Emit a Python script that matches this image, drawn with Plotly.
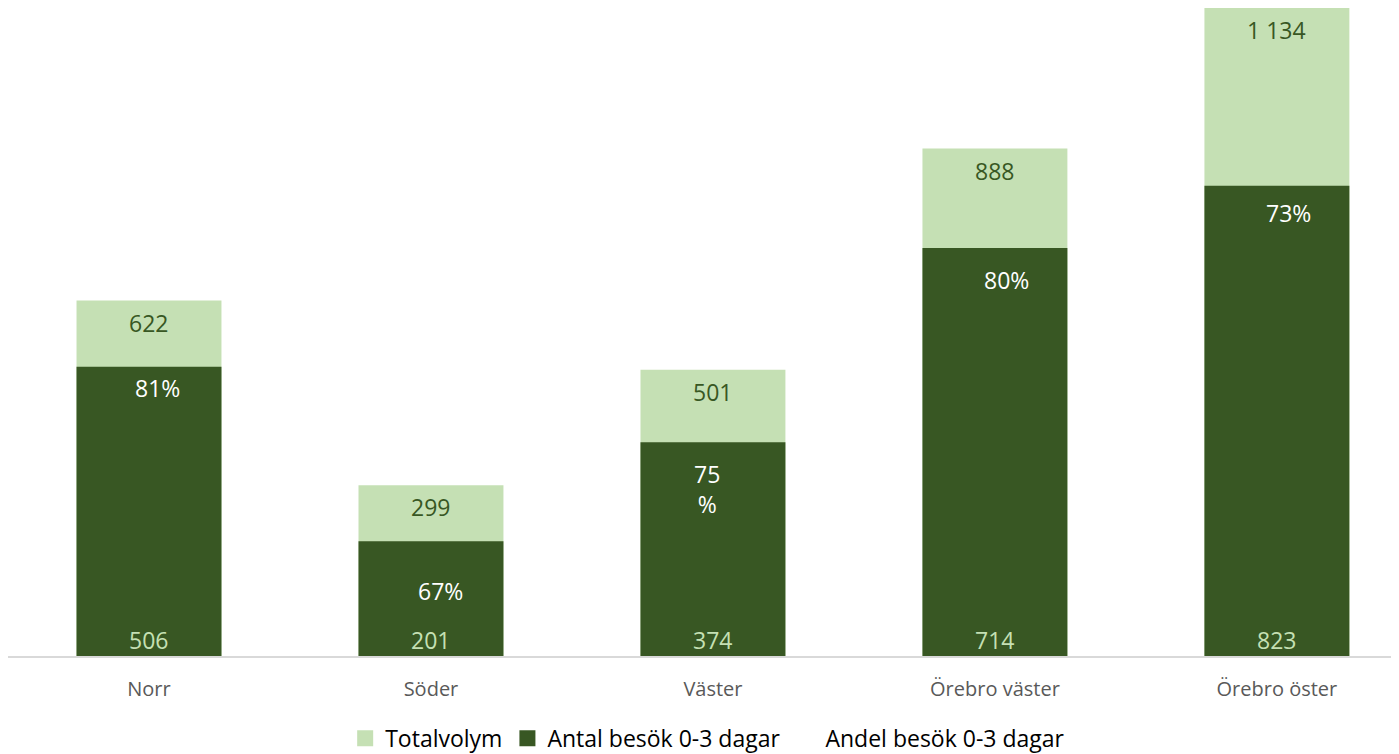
import plotly.graph_objects as go

# data
omraden = ['Norr', 'Söder', 'Väster', 'Örebro väster', 'Örebro öster']
totalvolym = [622, 299, 501, 888, 1134]
antal_besok = [506, 201, 374, 714, 823]
andel_besok = [81, 67, 75, 80, 73]

LJUS = '#C5E0B4'
MORK = '#385723'
FONT = 'Open Sans'

# label nudges (px) for the percentage labels, as placed in the original
pct_xshift = [9, 10, -6, 12, 12]
pct_yshift = [-21, -50, -47, -32, -27]


def fmt(v):
    return f'{v:,}'.replace(',', ' ')


fig = go.Figure()

fig.add_trace(go.Bar(
    x=omraden, y=totalvolym, name='Totalvolym',
    marker=dict(color=LJUS, line=dict(width=0)),
    width=0.514, hoverinfo='skip', showlegend=False
))
fig.add_trace(go.Bar(
    x=omraden, y=antal_besok, name='Antal besök 0-3 dagar',
    marker=dict(color=MORK, line=dict(width=0)),
    width=0.514, hoverinfo='skip', showlegend=False
))

# legend entries with larger square swatches
for namn, farg in [('Totalvolym', LJUS), ('Antal besök 0-3 dagar', MORK)]:
    fig.add_trace(go.Scatter(
        x=[None], y=[None], name=namn, mode='markers',
        marker=dict(symbol='square', size=16, color=farg, line=dict(width=0))
    ))

# percentage series: invisible line, only shown via labels + legend entry
fig.add_trace(go.Scatter(
    x=omraden, y=antal_besok, name='Andel besök 0-3 dagar',
    mode='lines', line=dict(color='rgba(0,0,0,0)', width=0),
    hoverinfo='skip'
))

annotations = []
for i, cat in enumerate(omraden):
    annotations.append(dict(
        x=cat, y=totalvolym[i], text=fmt(totalvolym[i]), showarrow=False,
        yanchor='middle', yshift=-22,
        font=dict(family=FONT, size=23, color=MORK)
    ))
    annotations.append(dict(
        x=cat, y=0, text=fmt(antal_besok[i]), showarrow=False,
        yanchor='middle', yshift=16,
        font=dict(family=FONT, size=23, color=LJUS)
    ))
    pct = f'{andel_besok[i]}%'
    if cat == 'Väster':
        pct = f'{andel_besok[i]}<br>%'
    annotations.append(dict(
        x=cat, y=antal_besok[i], text=pct, showarrow=False,
        yanchor='middle', xshift=pct_xshift[i], yshift=pct_yshift[i],
        font=dict(family=FONT, size=23, color='white')
    ))

fig.update_layout(
    width=1391, height=746,
    barmode='overlay',
    plot_bgcolor='white', paper_bgcolor='white',
    margin=dict(l=0, r=0, t=0, b=98, autoexpand=False),
    font=dict(family=FONT, color='#595959'),
    xaxis=dict(
        range=[-0.5, 4.433], showgrid=False, zeroline=False,
        showline=True, linecolor='#D9D9D9', linewidth=1.5,
        ticks='', ticklabelstandoff=14, automargin=False,
        tickfont=dict(size=20, color='#595959')
    ),
    yaxis=dict(range=[0, 1134], visible=False, showgrid=False, zeroline=False),
    legend=dict(
        orientation='h', x=0.503, xanchor='center',
        yref='container', y=0.021, yanchor='middle',
        font=dict(family=FONT, size=23, color='#000000'),
        traceorder='normal', itemwidth=30
    ),
    annotations=annotations,
    showlegend=True
)

fig.write_html('out.html')
